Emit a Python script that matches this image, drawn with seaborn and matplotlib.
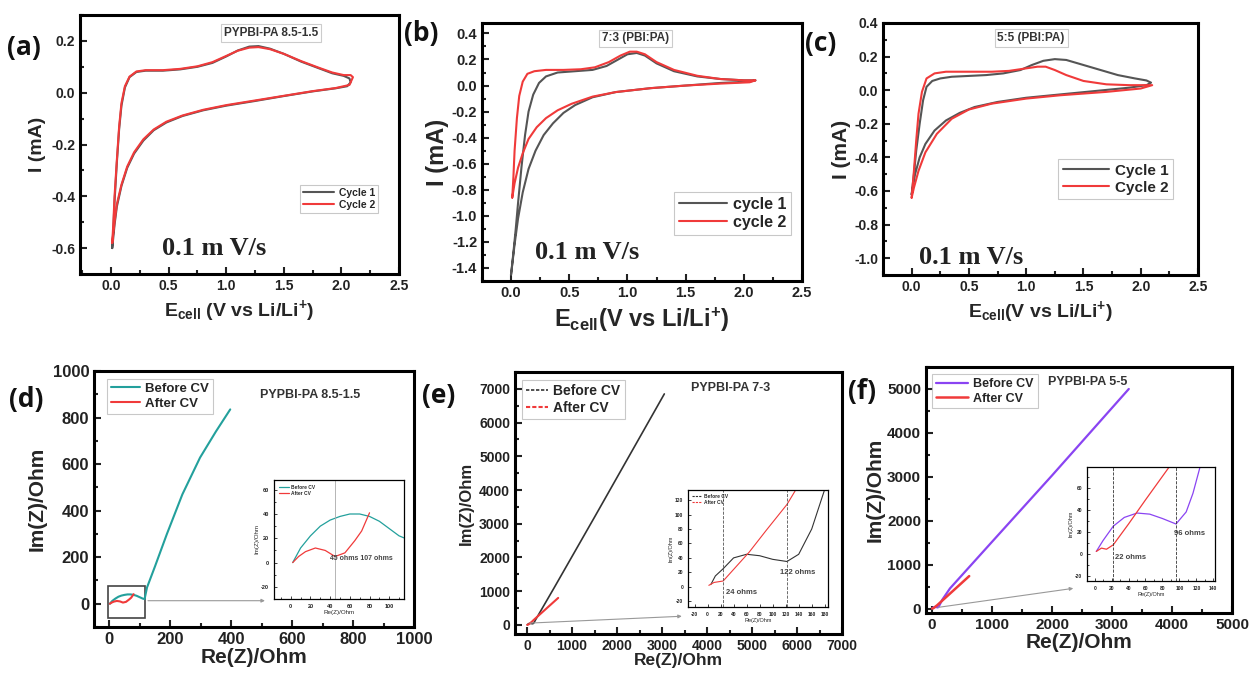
import matplotlib
matplotlib.use('Agg')
import matplotlib.pyplot as plt
from matplotlib.ticker import MultipleLocator, AutoMinorLocator
from matplotlib.patches import Rectangle
import seaborn as sns

# ---------------- CV data (E in V, I in mA) ----------------
# (a) PYPBI-PA 8.5-1.5
a_c1_e = [0.01, 0.02, 0.03, 0.05, 0.07, 0.09, 0.12, 0.16, 0.22, 0.30,
          0.45, 0.60, 0.75, 0.88, 1.00, 1.10, 1.20, 1.28, 1.38, 1.50,
          1.65, 1.80, 1.92, 2.02, 2.07, 2.08, 2.05, 1.95, 1.75, 1.50,
          1.25, 1.00, 0.80, 0.62, 0.48, 0.37, 0.28, 0.20, 0.14, 0.09,
          0.05, 0.03, 0.01]
a_c1_i = [-0.60, -0.52, -0.42, -0.27, -0.14, -0.05, 0.02, 0.06, 0.08, 0.085,
          0.085, 0.09, 0.10, 0.115, 0.14, 0.163, 0.178, 0.18, 0.17, 0.15,
          0.12, 0.095, 0.075, 0.065, 0.055, 0.04, 0.025, 0.017, 0.005, -0.013,
          -0.032, -0.05, -0.068, -0.09, -0.115, -0.145, -0.185, -0.235, -0.29, -0.36,
          -0.44, -0.51, -0.60]
a_c2_e = [0.01, 0.02, 0.03, 0.05, 0.07, 0.09, 0.12, 0.16, 0.22, 0.30,
          0.45, 0.60, 0.75, 0.88, 1.00, 1.10, 1.20, 1.28, 1.38, 1.50,
          1.65, 1.80, 1.92, 2.02, 2.08, 2.10, 2.07, 1.95, 1.75, 1.50,
          1.25, 1.00, 0.80, 0.62, 0.48, 0.37, 0.28, 0.20, 0.14, 0.09,
          0.05, 0.03, 0.01]
a_c2_i = [-0.58, -0.50, -0.40, -0.26, -0.13, -0.04, 0.025, 0.062, 0.082, 0.087,
          0.087, 0.092, 0.102, 0.118, 0.142, 0.162, 0.174, 0.176, 0.168, 0.15,
          0.122, 0.097, 0.078, 0.068, 0.068, 0.06, 0.03, 0.018, 0.006, -0.012,
          -0.03, -0.048, -0.066, -0.088, -0.112, -0.142, -0.18, -0.23, -0.285, -0.355,
          -0.43, -0.50, -0.58]

# (b) 7:3 (PBI:PA)
b_c1_e = [0.00, 0.02, 0.04, 0.06, 0.09, 0.12, 0.15, 0.19, 0.24, 0.30,
          0.40, 0.55, 0.70, 0.82, 0.92, 1.00, 1.08, 1.15, 1.25, 1.40,
          1.60, 1.80, 2.00, 2.10, 2.05, 1.80, 1.50, 1.20, 0.90, 0.70,
          0.55, 0.45, 0.36, 0.28, 0.21, 0.15, 0.10, 0.06, 0.03, 0.00]
b_c1_i = [-1.45, -1.28, -1.10, -0.90, -0.62, -0.38, -0.20, -0.07, 0.02, 0.07,
          0.10, 0.11, 0.12, 0.15, 0.20, 0.24, 0.25, 0.23, 0.17, 0.11,
          0.07, 0.05, 0.04, 0.04, 0.03, 0.02, 0.00, -0.02, -0.05, -0.09,
          -0.15, -0.21, -0.29, -0.38, -0.50, -0.64, -0.82, -1.02, -1.22, -1.45]
b_c2_e = [0.01, 0.02, 0.03, 0.05, 0.07, 0.10, 0.14, 0.20, 0.30, 0.45,
          0.60, 0.72, 0.84, 0.94, 1.02, 1.08, 1.15, 1.25, 1.40, 1.60,
          1.80, 2.00, 2.10, 2.05, 1.80, 1.50, 1.20, 0.90, 0.70, 0.52,
          0.40, 0.30, 0.22, 0.15, 0.10, 0.06, 0.03, 0.01]
b_c2_i = [-0.86, -0.70, -0.50, -0.25, -0.08, 0.03, 0.09, 0.11, 0.12, 0.12,
          0.125, 0.14, 0.18, 0.23, 0.26, 0.26, 0.24, 0.18, 0.12, 0.075,
          0.05, 0.04, 0.04, 0.025, 0.015, 0.00, -0.02, -0.05, -0.085, -0.14,
          -0.19, -0.25, -0.32, -0.41, -0.52, -0.63, -0.75, -0.86]

# (c) 5:5 (PBI:PA)
c_c1_e = [0.00, 0.02, 0.04, 0.07, 0.10, 0.13, 0.18, 0.25, 0.35, 0.50,
          0.65, 0.80, 0.95, 1.05, 1.15, 1.25, 1.35, 1.50, 1.65, 1.80,
          1.95, 2.05, 2.09, 2.05, 1.90, 1.60, 1.30, 1.00, 0.75, 0.55,
          0.42, 0.30, 0.20, 0.12, 0.07, 0.03, 0.00]
c_c1_i = [-0.62, -0.50, -0.36, -0.20, -0.06, 0.02, 0.055, 0.07, 0.08, 0.085,
          0.09, 0.10, 0.12, 0.15, 0.175, 0.185, 0.18, 0.15, 0.12, 0.09,
          0.07, 0.058, 0.045, 0.03, 0.015, -0.005, -0.025, -0.045, -0.07, -0.10,
          -0.135, -0.18, -0.24, -0.32, -0.40, -0.50, -0.62]
c_c2_e = [0.00, 0.02, 0.04, 0.06, 0.09, 0.13, 0.20, 0.30, 0.50, 0.70,
          0.85, 1.00, 1.10, 1.17, 1.25, 1.35, 1.50, 1.70, 1.90, 2.10,
          2.00, 1.70, 1.30, 1.00, 0.70, 0.50, 0.35, 0.22, 0.12, 0.06,
          0.02, 0.00]
c_c2_i = [-0.64, -0.48, -0.30, -0.14, -0.01, 0.07, 0.10, 0.11, 0.11, 0.11,
          0.115, 0.13, 0.14, 0.14, 0.12, 0.09, 0.055, 0.035, 0.03, 0.03,
          0.01, -0.01, -0.03, -0.05, -0.08, -0.115, -0.17, -0.26, -0.37, -0.48,
          -0.58, -0.64]

# ---------------- EIS data (Ohm) ----------------
d_before_re = [2, 10, 20, 30, 40, 50, 60, 70, 80, 90,
               100, 110, 116, 124, 150, 189, 240, 298, 350, 397]
d_before_im = [0, 12, 22, 30, 35, 38, 40, 40, 38, 34,
               28, 22, 20, 70, 160, 299, 470, 628, 740, 835]
d_after_re = [2, 8, 15, 25, 35, 45, 55, 65, 72, 80]
d_after_im = [0, 5, 9, 12, 10, 5, 8, 18, 26, 41]

e_before_re = [5, 12, 24, 40, 60, 80, 100, 122, 140, 160, 180, 600, 1500, 3050]
e_before_im = [3, 15, 25, 40, 45, 43, 38, 35, 45, 80, 135, 1100, 3200, 6850]
e_after_re = [2, 10, 24, 40, 64, 90, 122, 136, 400, 690]
e_after_im = [2, 6, 8, 24, 48, 78, 114, 135, 452, 800]

f_before_re = [2, 10, 22, 35, 50, 65, 80, 96, 108, 116, 124, 170, 300, 1000, 2000, 3280]
f_before_im = [2, 12, 25, 33, 37, 36, 32, 27, 38, 55, 78, 200, 460, 1520, 3030, 5000]
f_after_re = [2, 8, 14, 22, 40, 60, 87, 200, 400, 620]
f_after_im = [2, 5, 4, 8, 27, 49, 78, 218, 466, 740]

GRAY = '#555555'
RED = '#f03a3a'
TEAL = '#23a09c'
PURPLE = '#8a44f2'
BLACK = '#333333'

sns.set_style('white')
plt.rcParams['font.family'] = ['Liberation Sans', 'DejaVu Sans']
plt.rcParams['axes.unicode_minus'] = False
plt.rcParams['mathtext.fontset'] = 'custom'
plt.rcParams['mathtext.rm'] = 'Liberation Sans:bold'
plt.rcParams['mathtext.it'] = 'Liberation Sans:bold'
plt.rcParams['mathtext.bf'] = 'Liberation Sans:bold'
plt.rcParams['mathtext.default'] = 'bf'

W, H = 1250, 673
fig = plt.figure(figsize=(W / 100, H / 100), dpi=100)


def box(l, t, r, b):
    return fig.add_axes([l / W, 1 - b / H, (r - l) / W, (b - t) / H])


def curve(ax, x, y, color, label=None, lw=1.5):
    sns.lineplot(x=x, y=y, sort=False, estimator=None, color=color,
                 lw=lw, label=label, ax=ax)


def style(ax, xlim, ylim, xstep, ystep, fs, spine=2.2, tl=5, tw=1.5):
    ax.set_xlim(*xlim)
    ax.set_ylim(*ylim)
    ax.xaxis.set_major_locator(MultipleLocator(xstep))
    ax.yaxis.set_major_locator(MultipleLocator(ystep))
    ax.xaxis.set_minor_locator(AutoMinorLocator(2))
    ax.yaxis.set_minor_locator(AutoMinorLocator(2))
    ax.tick_params(which='both', direction='in', top=False, right=False,
                   bottom=True, left=True, labelsize=fs, colors='#222222',
                   width=tw)
    ax.tick_params(which='major', length=tl)
    ax.tick_params(which='minor', length=tl * 0.6)
    for lab in ax.get_xticklabels() + ax.get_yticklabels():
        lab.set_fontweight('bold')
    for s in ax.spines.values():
        s.set_linewidth(spine)
        s.set_color('black')


def legend(ax, anchor, fs, hl=3.0, frame=True, dashed=False):
    leg = ax.legend(loc='upper left', bbox_to_anchor=anchor, frameon=frame,
                    fancybox=False, edgecolor='#bbbbbb', handlelength=hl,
                    borderpad=0.3, labelspacing=0.2, handletextpad=0.4,
                    borderaxespad=0, prop={'weight': 'bold', 'size': fs})
    leg.get_frame().set_linewidth(0.8)
    if dashed:
        for ln in leg.get_lines():
            ln.set_linestyle((0, (2, 1)))
    return leg


def tag(ax, x, y, s, fs):
    ax.text(x, y, s, transform=ax.transAxes, ha='center', va='center',
            fontsize=fs, fontweight='bold', color='#333333',
            bbox=dict(facecolor='white', edgecolor='#cccccc', lw=0.8, pad=2))


def rate(ax, x, y, fs=19):
    ax.text(x, y, '0.1 m V/s', transform=ax.transAxes, ha='center',
            va='center', fontsize=fs, fontweight='bold',
            family='Liberation Serif', color='#222222')


cv_xlabel = r'E$_{cell}$ (V vs Li/Li$^{+}$)'

# ---- (a) ----
ax = box(80, 15, 399, 274)
curve(ax, a_c1_e, a_c1_i, GRAY, 'Cycle 1')
curve(ax, a_c2_e, a_c2_i, RED, 'Cycle 2')
style(ax, (-0.27, 2.5), (-0.7, 0.3), 0.5, 0.2, 10)
ax.set_xlabel(cv_xlabel, fontsize=14, fontweight='bold')
ax.set_ylabel('I (mA)', fontsize=14, fontweight='bold')
legend(ax, (0.69, 0.345), 7.5)
tag(ax, 0.6, 0.93, 'PYPBI-PA 8.5-1.5', 8.5)
rate(ax, 0.42, 0.1)

# ---- (b) ----
ax = box(482, 23, 802, 281)
curve(ax, b_c1_e, b_c1_i, GRAY, 'cycle 1')
curve(ax, b_c2_e, b_c2_i, RED, 'cycle 2')
style(ax, (-0.25, 2.5), (-1.5, 0.48), 0.5, 0.2, 10.5)
ax.set_xlabel(r'E$_{cell}$(V vs Li/Li$^{+}$)', fontsize=17, fontweight='bold')
ax.set_ylabel('I (mA)', fontsize=17, fontweight='bold', labelpad=2)
legend(ax, (0.6, 0.345), 11.5)
tag(ax, 0.48, 0.94, '7:3 (PBI:PA)', 8.5)
rate(ax, 0.33, 0.11)

# ---- (c) ----
ax = box(883, 23, 1198, 275)
curve(ax, c_c1_e, c_c1_i, GRAY, 'Cycle 1')
curve(ax, c_c2_e, c_c2_i, RED, 'Cycle 2')
style(ax, (-0.25, 2.5), (-1.1, 0.4), 0.5, 0.2, 10)
ax.set_xlabel(r'E$_{cell}$(V vs Li/Li$^{+}$)', fontsize=14, fontweight='bold')
ax.set_ylabel('I (mA)', fontsize=15, fontweight='bold', labelpad=2)
legend(ax, (0.556, 0.46), 11)
tag(ax, 0.47, 0.94, '5:5 (PBI:PA)', 8.5)
rate(ax, 0.28, 0.07)

# ---- (d) ----
ax = box(94, 371, 414, 627)
curve(ax, d_before_re, d_before_im, TEAL, 'Before CV')
curve(ax, d_after_re, d_after_im, RED, 'After CV')
style(ax, (-50, 1000), (-100, 1000), 200, 200, 12)
ax.set_xlabel('Re(Z)/Ohm', fontsize=15, fontweight='bold', labelpad=1)
ax.set_ylabel('Im(Z)/Ohm', fontsize=15, fontweight='bold')
legend(ax, (0.04, 0.97), 9.5, hl=2.2)
ax.text(0.675, 0.906, 'PYPBI-PA 8.5-1.5', transform=ax.transAxes,
        ha='center', va='center', fontsize=9, fontweight='bold', color='#333333')
ax.add_patch(Rectangle((-5, -60), 123, 135, fill=False, ec='#444444', lw=1.2))
ax.annotate('', xy=(520, 13), xytext=(118, 13),
            arrowprops=dict(arrowstyle='-|>', color='#999999', lw=0.8,
                            mutation_scale=5))

ins = box(274, 480, 404, 599)
curve(ins, d_before_re, d_before_im, TEAL, 'Before CV', lw=0.9)
curve(ins, d_after_re, d_after_im, RED, 'After CV', lw=0.9)
style(ins, (-17, 115), (-30, 68), 20, 20, 4, spine=0.9, tl=2, tw=0.6)
ins.axvline(45, color='#aaaaaa', lw=0.6)
ins.set_xlabel('Re(Z)/Ohm', fontsize=4.5, labelpad=1)
ins.set_ylabel('Im(Z)/Ohm', fontsize=4.5, labelpad=1)
legend(ins, (0.03, 0.97), 3.5, hl=2, frame=False)
ins.text(40, 2, '45 ohms 107 ohms', fontsize=5, fontweight='bold', color='#444444')

# ---- (e) ----
ax = box(515, 372, 842, 634)
curve(ax, e_before_re, e_before_im, BLACK, 'Before CV', lw=1.2)
curve(ax, e_after_re, e_after_im, RED, 'After CV', lw=1.5)
style(ax, (-270, 7000), (-270, 7500), 1000, 1000, 10)
ax.set_xlabel('Re(Z)/Ohm', fontsize=12.5, fontweight='bold', labelpad=0)
ax.set_ylabel('Im(Z)/Ohm', fontsize=12, fontweight='bold')
legend(ax, (0.02, 0.97), 10, hl=1.6, dashed=True)
ax.text(0.66, 0.94, 'PYPBI-PA 7-3', transform=ax.transAxes,
        ha='center', va='center', fontsize=9, fontweight='bold', color='#333333')
ax.annotate('', xy=(3500, 260), xytext=(0, 50),
            arrowprops=dict(arrowstyle='-|>', color='#999999', lw=0.8,
                            mutation_scale=5))

ins = box(688, 490, 828, 607)
curve(ins, e_before_re, e_before_im, BLACK, 'Before CV', lw=0.8)
curve(ins, e_after_re, e_after_im, RED, 'After CV', lw=0.8)
style(ins, (-30, 185), (-28, 134), 20, 20, 3.5, spine=0.9, tl=2, tw=0.6)
ins.xaxis.set_minor_locator(AutoMinorLocator(1))
ins.yaxis.set_minor_locator(AutoMinorLocator(1))
ins.axvline(24, color='#555555', lw=0.6, ls='--')
ins.axvline(122, color='#555555', lw=0.6, ls='--')
ins.set_xlabel('Re(Z)/Ohm', fontsize=4, labelpad=0.5)
ins.set_ylabel('Im(Z)/Ohm', fontsize=4, labelpad=1)
legend(ins, (0.02, 0.98), 3.5, hl=2, frame=False, dashed=True)
ins.text(28, -10, '24 ohms', fontsize=5.5, fontweight='bold', color='#444444')
ins.text(112, 18, '122 ohms', fontsize=5.5, fontweight='bold', color='#444444')

# ---- (f) ----
ax = box(926, 367, 1232, 613)
curve(ax, f_before_re, f_before_im, PURPLE, 'Before CV', lw=1.6)
curve(ax, f_after_re, f_after_im, RED, 'After CV', lw=1.8)
style(ax, (-100, 5000), (-100, 5500), 1000, 1000, 11)
ax.set_xlabel('Re(Z)/Ohm', fontsize=15, fontweight='bold', labelpad=1)
ax.set_ylabel('Im(Z)/Ohm', fontsize=15, fontweight='bold', labelpad=2)
legend(ax, (0.02, 0.97), 9, hl=2.6)
ax.text(0.53, 0.94, 'PYPBI-PA 5-5', transform=ax.transAxes,
        ha='center', va='center', fontsize=9, fontweight='bold', color='#333333')
ax.annotate('', xy=(2400, 470), xytext=(60, 20),
            arrowprops=dict(arrowstyle='-|>', color='#999999', lw=0.8,
                            mutation_scale=5))

ins = box(1087, 467, 1215, 581)
curve(ins, f_before_re, f_before_im, PURPLE, lw=0.9)
curve(ins, f_after_re, f_after_im, RED, lw=0.9)
style(ins, (-9, 142), (-25, 79), 20, 20, 3.5, spine=0.9, tl=2, tw=0.6)
ins.axvline(22, color='#333333', lw=0.6, ls='--')
ins.axvline(96, color='#333333', lw=0.6, ls='--')
ins.set_xlabel('Re(Z)/Ohm', fontsize=4, labelpad=0.5)
ins.set_ylabel('Im(Z)/Ohm', fontsize=4, labelpad=1)
ins.text(24, -5, '22 ohms', fontsize=5.5, fontweight='bold', color='#444444')
ins.text(94, 17, '96 ohms', fontsize=5.5, fontweight='bold', color='#444444')

# panel labels
for px, py, s in [(24, 47, '(a)'), (421, 33, '(b)'), (821, 43, '(c)'),
                  (26, 400, '(d)'), (439, 395, '(e)'), (862, 392, '(f)')]:
    fig.text(px / W, 1 - py / H, s, ha='center', va='center', fontsize=19,
             fontweight='bold', family='Open Sans', color='#111111')

fig.savefig('out.png', dpi=100, facecolor='white')
